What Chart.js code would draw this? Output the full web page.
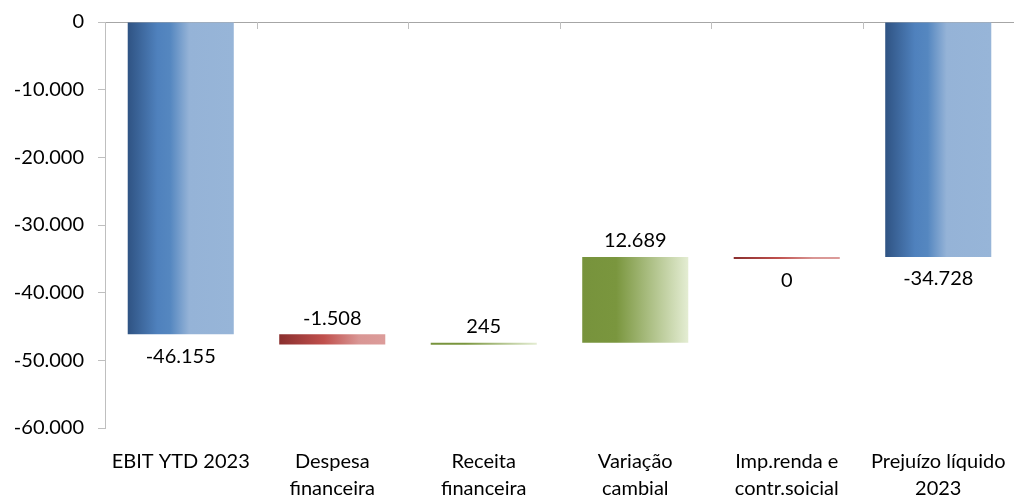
<!DOCTYPE html>
<html>
<head>
<meta charset="utf-8">
<script src="https://cdn.jsdelivr.net/npm/chart.js@4"></script>
<style>
  html, body { margin: 0; padding: 0; background: #fff; }
  #wrap { width: 1014px; height: 495px; }
</style>
</head>
<body>
<div id="wrap"><canvas id="chart" width="1014" height="495"></canvas></div>
<script>
// waterfall: EBIT -> prejuizo liquido
const categories = [
  ["EBIT YTD 2023"],
  ["Despesa", "financeira"],
  ["Receita", "financeira"],
  ["Variação", "cambial"],
  ["Imp.renda e", "contr.soicial"],
  ["Prejuízo líquido", "2023"],
];
const values = [-46155, -1508, 245, 12689, 0, -34728];
const isTotal = [true, false, false, false, false, true];
const labelBelow = [true, false, false, false, true, true];
const yMin = -60000;
const yMax = 0;
const yStep = 10000;

function fmt(v) {
  const s = Math.abs(Math.round(v)).toString().replace(/\B(?=(\d{3})+(?!\d))/g, ".");
  return (v < 0 ? "-" : "") + s;
}

// floating ranges from running total
const ranges = [];
let running = 0;
values.forEach((v, i) => {
  if (isTotal[i]) {
    ranges.push([0, v]);
    running = v;
  } else {
    ranges.push([running, running + v]);
    running += v;
  }
});

const blueStops = [[0, "#2f5383"], [0.28, "#4f81bd"], [0.4, "#5587c0"], [0.58, "#95b3d7"], [1, "#97b5d8"]];
const redStops = [[0, "#8a2f2e"], [0.42, "#c0504d"], [0.75, "#d99694"], [1, "#dc9c9a"]];
const greenStops = [[0, "#77933c"], [0.32, "#7a963e"], [1, "#e4edd3"]];

function barFill(ctx) {
  const chart = ctx.chart;
  const i = ctx.dataIndex;
  const stops = isTotal[i] ? blueStops : (values[i] > 0 ? greenStops : redStops);
  if (!chart.chartArea) return stops[1][1];
  const x = chart.scales.x;
  const cx = x.getPixelForValue(i);
  const w = (x.width / categories.length) * 0.7;
  const g = chart.ctx.createLinearGradient(cx - w / 2, 0, cx + w / 2, 0);
  stops.forEach(s => g.addColorStop(s[0], s[1]));
  return g;
}

const FONT = "Lato, 'Open Sans', sans-serif";

const labelsPlugin = {
  id: "barLabels",
  afterDatasetsDraw(chart) {
    const c = chart.ctx;
    const meta = chart.getDatasetMeta(0);
    c.save();
    c.font = "20px " + FONT;
    c.fillStyle = "#000";
    c.textAlign = "center";
    c.textBaseline = "middle";
    meta.data.forEach((bar, i) => {
      const top = Math.min(bar.y, bar.base);
      const bottom = Math.max(bar.y, bar.base);
      const y = labelBelow[i] ? bottom + 22 : top - 16;
      c.fillText(fmt(values[i]), bar.x, y);
    });
    // category separators hanging from the zero line
    const x = chart.scales.x;
    const y0 = chart.scales.y.getPixelForValue(0);
    const step = x.width / categories.length;
    c.strokeStyle = "#bfbfbf";
    c.lineWidth = 1;
    for (let k = 1; k <= categories.length; k++) {
      const px = Math.round(x.left + step * k) + 0.5;
      c.beginPath();
      c.moveTo(px, y0);
      c.lineTo(px, y0 + 7);
      c.stroke();
    }
    c.restore();
  },
};

new Chart(document.getElementById("chart"), {
  type: "bar",
  data: {
    labels: categories,
    datasets: [
      {
        data: ranges,
        backgroundColor: barFill,
        borderWidth: 0,
        minBarLength: 2,
        categoryPercentage: 0.7,
        barPercentage: 1.0,
      },
    ],
  },
  options: {
    responsive: false,
    animation: false,
    layout: { padding: { top: 22, right: 0, bottom: 0, left: 0 } },
    plugins: { legend: { display: false }, tooltip: { enabled: false } },
    scales: {
      x: {
        grid: { display: false },
        border: { display: false },
        ticks: {
          color: "#000",
          padding: 12,
          maxRotation: 0,
          autoSkip: false,
          font: { family: FONT, size: 20, lineHeight: 1.35 },
        },
        afterFit(scale) {
          scale.height = 67;
          scale.paddingLeft = 0;
          scale.paddingRight = 0;
        },
      },
      y: {
        min: yMin,
        max: yMax,
        ticks: {
          stepSize: yStep,
          color: "#000",
          padding: 14,
          font: { family: FONT, size: 20 },
          callback: v => fmt(v),
        },
        grid: {
          color: ctx => (ctx.tick && ctx.tick.value === 0 ? "#a6a6a6" : "rgba(0,0,0,0)"),
          tickColor: "#bfbfbf",
          tickLength: 7,
        },
        border: { display: true, color: "#bfbfbf" },
        afterFit(scale) {
          scale.width = 105;
          scale.paddingTop = 0;
          scale.paddingBottom = 0;
        },
      },
    },
  },
  plugins: [labelsPlugin],
});
</script>
</body>
</html>
